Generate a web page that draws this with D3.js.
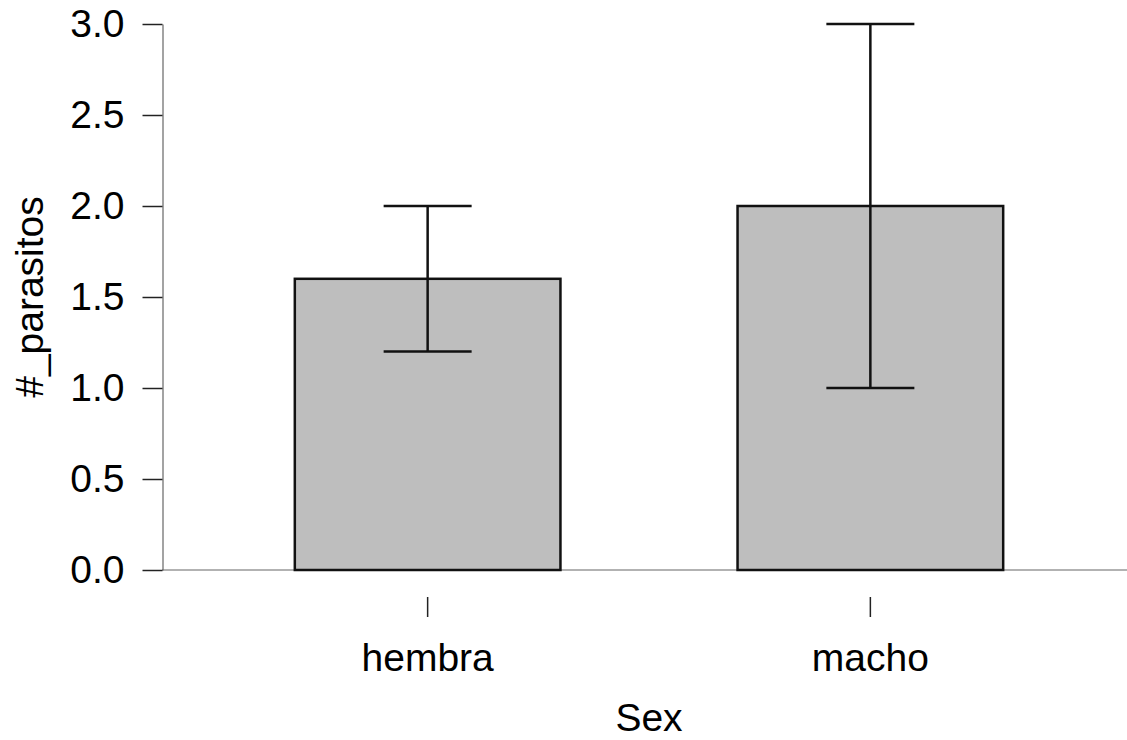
<!DOCTYPE html>
<html>
<head>
<meta charset="utf-8">
<script src="https://cdn.jsdelivr.net/npm/d3@7"></script>
<style>
  html, body { margin: 0; padding: 0; background: #fff; }
  svg text { font-family: "Liberation Sans", Arial, sans-serif; fill: #000; }
</style>
</head>
<body>
<svg id="chart"></svg>
<script>
const categories = ['hembra', 'macho'];
const means = [1.6, 2.0];
const lower = [1.2, 1.0];
const upper = [2.0, 3.0];
const yTicks = [0, 0.5, 1.0, 1.5, 2.0, 2.5, 3.0];

const w = 1127;
const h = 740;
const svg = d3.select('#chart').attr('width', w).attr('height', h);

const x = d3.scaleBand().domain(categories).range([162, 1136])
  .paddingInner(0.4).paddingOuter(0.3);
const y = d3.scaleLinear().domain([0, 3]).range([570, 24]);

// baseline
svg.append('line')
  .attr('x1', 162).attr('x2', w)
  .attr('y1', y(0)).attr('y2', y(0))
  .attr('stroke', '#999').attr('stroke-width', 1.5);

// y axis
const yAxis = svg.append('g')
  .attr('transform', 'translate(162.5,0)')
  .call(d3.axisLeft(y).tickValues(yTicks).tickFormat(d3.format('.1f'))
    .tickSize(20).tickPadding(18).tickSizeOuter(0));
yAxis.select('.domain').attr('stroke', '#666').attr('stroke-width', 1.2);
yAxis.selectAll('.tick line').attr('stroke', '#222').attr('stroke-width', 1.5);
yAxis.selectAll('.tick text').style('font-size', '39px')
  .style('font-family', '"Liberation Sans", Arial, sans-serif');

// bars
const data = categories.map((c, i) => ({ c, m: means[i], lo: lower[i], hi: upper[i] }));

svg.selectAll('rect.bar')
  .data(data)
  .join('rect')
  .attr('class', 'bar')
  .attr('x', d => x(d.c))
  .attr('y', d => y(d.m))
  .attr('width', x.bandwidth())
  .attr('height', d => y(0) - y(d.m))
  .attr('fill', '#bebebe')
  .attr('stroke', '#111')
  .attr('stroke-width', 2.5);

// error bars
const capHalf = 44;
const eb = svg.selectAll('g.err').data(data).join('g').attr('class', 'err')
  .attr('stroke', '#111').attr('stroke-width', 2.5);
eb.append('line')
  .attr('x1', d => x(d.c) + x.bandwidth() / 2).attr('x2', d => x(d.c) + x.bandwidth() / 2)
  .attr('y1', d => y(d.lo)).attr('y2', d => y(d.hi));
eb.append('line')
  .attr('x1', d => x(d.c) + x.bandwidth() / 2 - capHalf).attr('x2', d => x(d.c) + x.bandwidth() / 2 + capHalf)
  .attr('y1', d => y(d.hi)).attr('y2', d => y(d.hi));
eb.append('line')
  .attr('x1', d => x(d.c) + x.bandwidth() / 2 - capHalf).attr('x2', d => x(d.c) + x.bandwidth() / 2 + capHalf)
  .attr('y1', d => y(d.lo)).attr('y2', d => y(d.lo));

// x axis (ticks only, offset below)
const xAxis = svg.append('g')
  .attr('transform', 'translate(0,597)')
  .call(d3.axisBottom(x).tickSize(20).tickPadding(26).tickSizeOuter(0));
xAxis.select('.domain').remove();
xAxis.selectAll('.tick line').attr('stroke', '#222').attr('stroke-width', 1.5);
xAxis.selectAll('.tick text').style('font-size', '39px')
  .style('font-family', '"Liberation Sans", Arial, sans-serif');

// axis titles
svg.append('text')
  .attr('x', 649).attr('y', 731)
  .attr('text-anchor', 'middle')
  .style('font-size', '39px')
  .text('Sex');

svg.append('text')
  .attr('transform', 'translate(43,297) rotate(-90)')
  .attr('text-anchor', 'middle')
  .style('font-size', '39px')
  .text('#_parasitos');
</script>
</body>
</html>
